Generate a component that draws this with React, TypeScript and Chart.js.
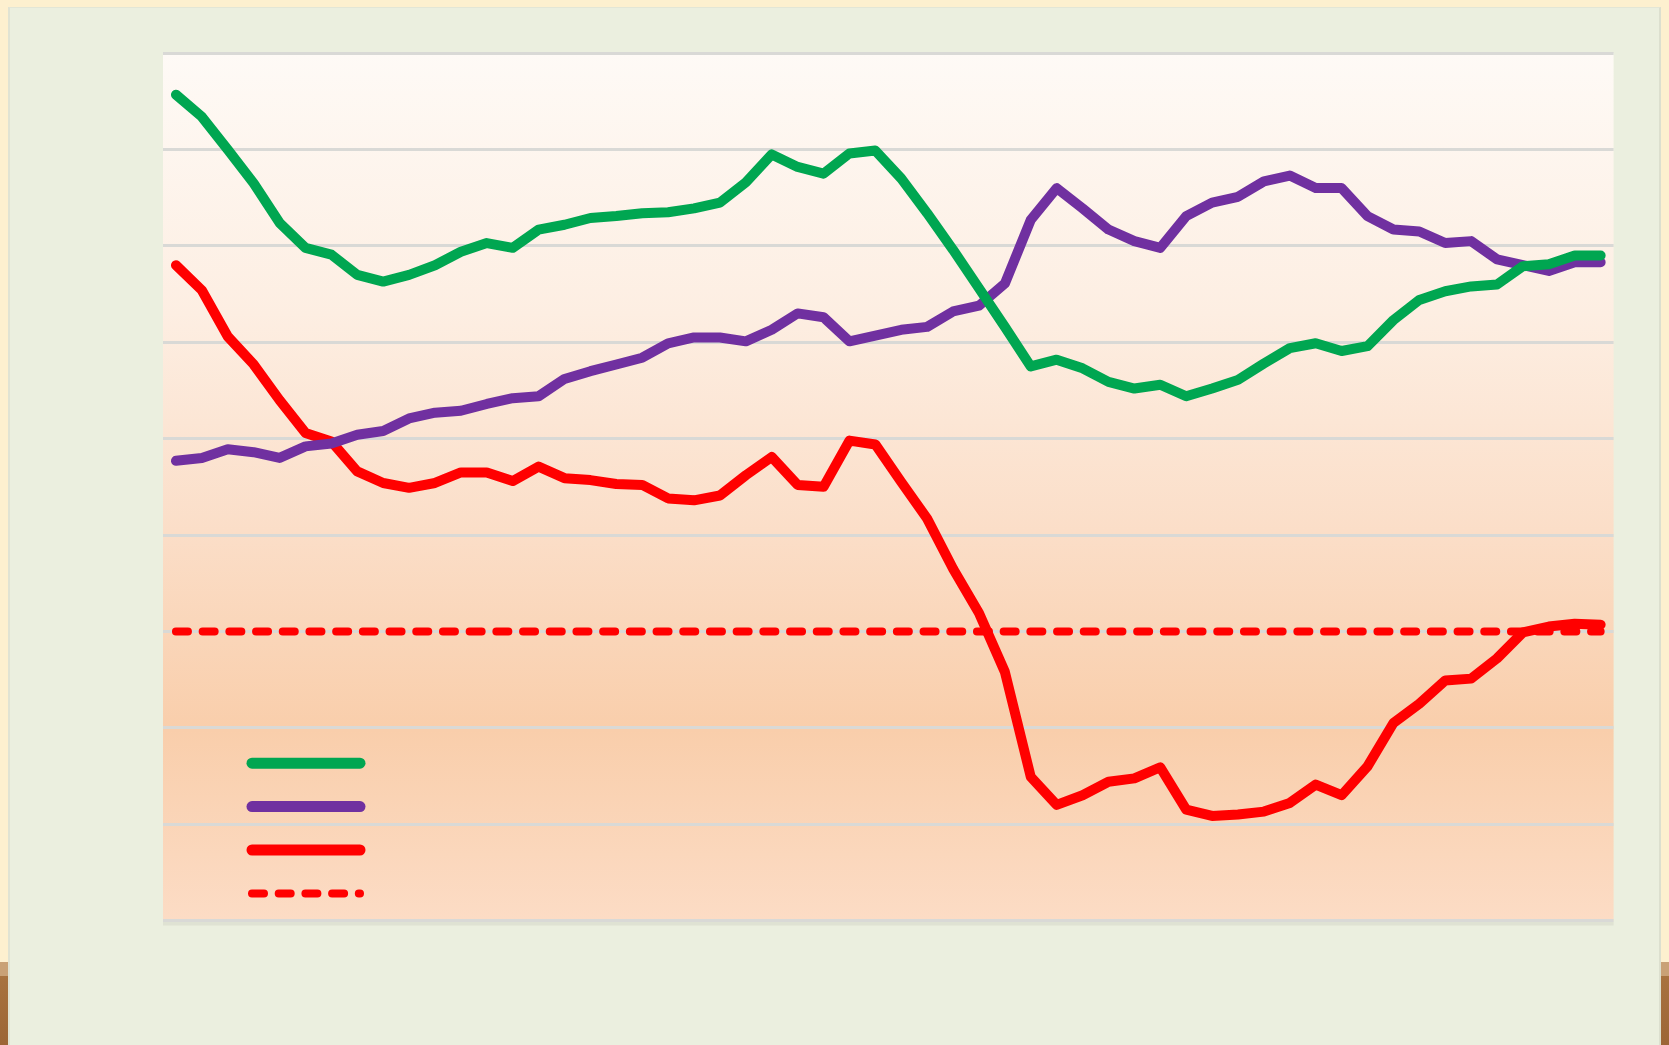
import React, { useEffect, useRef } from "react";
import { Chart, registerables } from "chart.js";

Chart.register(...registerables);

// 56 consecutive periods (the original axis labels are not shown in the picture)
const periods: string[] = Array.from({ length: 56 }, (_, i) => `P${i + 1}`);

const seriesGreen: number[] = [
  8.57, 8.34, 8.0, 7.65, 7.24, 6.98, 6.91, 6.7, 6.63, 6.7, 6.8, 6.94, 7.03, 6.98, 7.17, 7.22, 7.29, 7.31, 7.34,
  7.35, 7.39, 7.45, 7.66, 7.95, 7.82, 7.75, 7.96, 7.99, 7.7, 7.34, 6.96, 6.56, 6.16, 5.75, 5.82, 5.73, 5.59,
  5.52, 5.56, 5.44, 5.52, 5.61, 5.78, 5.94, 5.99, 5.91, 5.96, 6.23, 6.44, 6.53, 6.58, 6.6, 6.79, 6.81, 6.9, 6.9,
];

const seriesPurple: number[] = [
  4.77, 4.8, 4.89, 4.86, 4.8, 4.92, 4.95, 5.04, 5.08, 5.21, 5.27, 5.29, 5.36, 5.42, 5.44, 5.62, 5.7, 5.77, 5.84,
  5.99, 6.05, 6.05, 6.01, 6.13, 6.3, 6.26, 6.01, 6.07, 6.13, 6.16, 6.32, 6.38, 6.61, 7.27, 7.6, 7.39, 7.17,
  7.05, 6.98, 7.31, 7.45, 7.51, 7.67, 7.73, 7.6, 7.6, 7.31, 7.17, 7.15, 7.03, 7.05, 6.86, 6.8, 6.74, 6.83, 6.83,
];

const seriesRed: number[] = [
  6.8, 6.54, 6.06, 5.77, 5.4, 5.06, 4.97, 4.66, 4.54, 4.49, 4.54, 4.65, 4.65, 4.56, 4.71, 4.59, 4.57, 4.53, 4.52,
  4.38, 4.36, 4.41, 4.62, 4.81, 4.52, 4.5, 4.98, 4.94, 4.55, 4.17, 3.65, 3.19, 2.58, 1.49, 1.2, 1.3, 1.44,
  1.475, 1.59, 1.15, 1.085, 1.1, 1.13, 1.22, 1.41, 1.3, 1.6, 2.05, 2.25, 2.49, 2.51, 2.72, 2.99, 3.05, 3.08, 3.07,
];

const targetLevel = 3;
const yMin = 0;
const yMax = 9;
const yStep = 1;

const GREEN = "#00A651";
const PURPLE = "#7030A0";
const RED = "#FF0000";

const plotBackground = {
  id: "plotBackground",
  beforeDraw(chart: any) {
    const { ctx, chartArea } = chart;
    if (!chartArea) return;
    const { left, right, top, bottom } = chartArea;
    const g = ctx.createLinearGradient(0, top, 0, bottom);
    g.addColorStop(0, "#FEFAF6");
    g.addColorStop(0.3, "#FDEEE2");
    g.addColorStop(0.55, "#FBDEC8");
    g.addColorStop(0.78, "#F9CEAB");
    g.addColorStop(1, "#FCDCC5");
    ctx.save();
    ctx.fillStyle = g;
    ctx.fillRect(left, top, right - left, bottom - top);
    ctx.fillStyle = "rgba(120,120,110,0.10)";
    ctx.fillRect(left, bottom + 1, right - left, 4);
    ctx.restore();
  },
};

const legendLines = {
  id: "legendLines",
  afterDraw(chart: any) {
    const { ctx, chartArea } = chart;
    if (!chartArea) return;
    const x0 = chartArea.left + 89;
    const x1 = chartArea.left + 197;
    const rowTop = chartArea.top + 710;
    const rowGap = 43.4;
    ctx.save();
    chart.data.datasets.forEach((ds: any, i: number) => {
      const y = rowTop + i * rowGap;
      ctx.beginPath();
      ctx.strokeStyle = ds.borderColor;
      ctx.lineCap = "round";
      ctx.lineWidth = ds.borderDash && ds.borderDash.length ? 8 : 11;
      ctx.setLineDash(ds.borderDash || []);
      ctx.moveTo(x0, y);
      ctx.lineTo(x1, y);
      ctx.stroke();
    });
    ctx.restore();
  },
};

function LineChart() {
  const canvasRef = useRef<HTMLCanvasElement | null>(null);

  useEffect(() => {
    if (!canvasRef.current) return;
    const chart = new Chart(canvasRef.current, {
      type: "line",
      data: {
        labels: periods,
        datasets: [
          {
            label: "Green series",
            data: seriesGreen,
            borderColor: GREEN,
            borderWidth: 10,
            pointRadius: 0,
            borderJoinStyle: "round",
            borderCapStyle: "round",
            tension: 0,
          },
          {
            label: "Purple series",
            data: seriesPurple,
            borderColor: PURPLE,
            borderWidth: 10,
            pointRadius: 0,
            borderJoinStyle: "round",
            borderCapStyle: "round",
            tension: 0,
          },
          {
            label: "Red series",
            data: seriesRed,
            borderColor: RED,
            borderWidth: 10,
            pointRadius: 0,
            borderJoinStyle: "round",
            borderCapStyle: "round",
            tension: 0,
          },
          {
            label: "Target",
            data: periods.map(() => targetLevel),
            borderColor: RED,
            borderWidth: 8,
            borderDash: [12, 14.7],
            borderCapStyle: "round",
            pointRadius: 0,
            tension: 0,
          },
        ],
      },
      options: {
        animation: false,
        responsive: true,
        maintainAspectRatio: false,
        layout: { padding: { left: 163, right: 55.4, top: 53.2, bottom: 124.5 } },
        plugins: { legend: { display: false }, tooltip: { enabled: false }, title: { display: false } },
        scales: {
          x: {
            display: false,
            offset: true,
          },
          y: {
            min: yMin,
            max: yMax,
            ticks: { display: false, stepSize: yStep },
            border: { display: false },
            grid: { color: "#D9D9D6", lineWidth: 3, drawTicks: false },
            afterFit: (scale: any) => {
              scale.width = 0;
            },
          },
        },
      },
      plugins: [plotBackground, legendLines],
    });
    return () => chart.destroy();
  }, []);

  return (
    <div style={{ position: "absolute", left: 0, top: 0, width: 1669, height: 1045 }}>
      <canvas ref={canvasRef} />
    </div>
  );
}

export default function App() {
  return (
    <div style={{ position: "fixed", left: 0, top: 0, width: 1669, height: 1045, background: "#FDF0CF", overflow: "hidden" }}>
      <div style={{ position: "absolute", left: 0, top: 962, width: 9, bottom: 0, background: "linear-gradient(#C9A176 0px, #C9A176 14px, #A8723F 14px, #9C6536 100%)" }} />
      <div style={{ position: "absolute", right: 0, top: 962, width: 9, bottom: 0, background: "linear-gradient(#C9A176 0px, #C9A176 14px, #A8723F 14px, #9C6536 100%)" }} />
      <div style={{ position: "absolute", left: 8, top: 7, right: 8, bottom: 0, background: "#EBEFDF", borderLeft: "2px solid #E0E3D3", borderRight: "2px solid #DCDFCF", borderTop: "1px solid #E3E6D6" }} />
      <LineChart />
    </div>
  );
}
